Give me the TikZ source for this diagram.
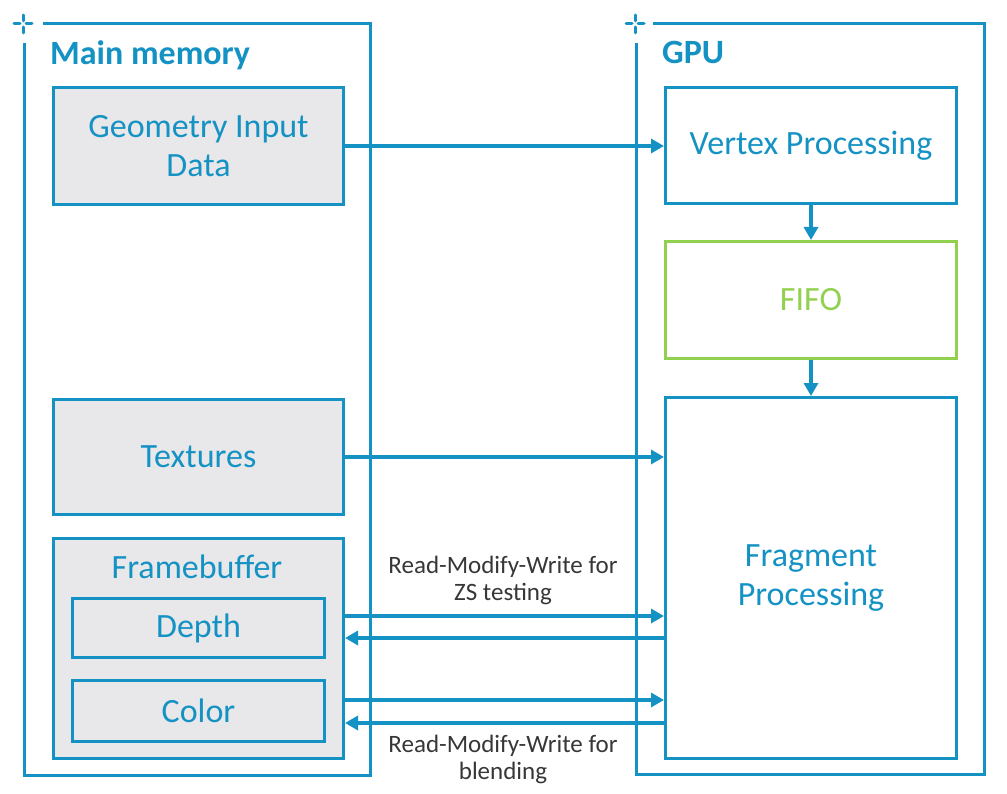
\documentclass[tikz,border=0pt]{standalone}
\usepackage{fontspec}
\setmainfont{Carlito}
\usetikzlibrary{arrows.meta}
\definecolor{memblue}{RGB}{20,146,196}
\definecolor{fifogreen}{RGB}{146,208,80}
\definecolor{boxgray}{RGB}{232,232,234}
\definecolor{notegray}{RGB}{55,55,55}
\begin{document}
\begin{tikzpicture}[x=1pt, y=-1pt,
  box/.style={draw=memblue, line width=3pt, text=memblue, font=\fontsize{34}{39}\selectfont,
    align=center, inner sep=0pt, anchor=north west},
  membox/.style={box, fill=boxgray},
  frame/.style={draw=memblue, line width=3pt},
  title/.style={text=memblue, font=\fontsize{34}{40}\selectfont\bfseries, anchor=west, inner sep=0pt},
  note/.style={text=notegray, font=\fontsize{25}{27}\selectfont, align=center},
  arr/.style={draw=memblue, line width=3.5pt, -{Triangle[length=13pt, width=14pt]}},
]
\useasboundingbox (0,0) rectangle (1007,794);

% move handles and the two containers
\foreach \cx/\cy in {23/24, 635/24}
  \draw[memblue, line width=3pt, line cap=round]
    (\cx-9,\cy) -- (\cx-3,\cy) (\cx+3,\cy) -- (\cx+9,\cy)
    (\cx,\cy-9) -- (\cx,\cy-3) (\cx,\cy+3) -- (\cx,\cy+9);
\draw[frame] (43,24) -- (370,24) -- (370,775) -- (24,775) -- (24,43);
\draw[frame] (653,24) -- (984,24) -- (984,774) -- (636,774) -- (636,43);
\node[title] (memtitle) at (50,55) {Main memory};
\node[title] (gputitle) at (662,52) {GPU};

% main memory
\node[membox, minimum width=290pt, minimum height=117pt] (geo) at (52,86) {Geometry Input\\Data};
\node[membox, minimum width=290pt, minimum height=115pt] (tex) at (52,398) {Textures};
\node[membox, minimum width=290pt, minimum height=220pt] (fb) at (52,537) {};
\node[text=memblue, font=\fontsize{34}{40}\selectfont] (fbtitle) at (197,567) {Framebuffer};
\node[box, minimum width=252pt, minimum height=59pt] (depth) at (71,597) {Depth};
\node[box, minimum width=252pt, minimum height=61pt] (color) at (71,679) {Color};

% gpu
\node[box, minimum width=291pt, minimum height=116pt] (vtx) at (664,86) {Vertex Processing};
\node[box, draw=fifogreen, text=fifogreen, minimum width=291pt, minimum height=117pt] (fifo) at (664,240) {FIFO};
\node[box, minimum width=291pt, minimum height=361pt] (frag) at (664,396) {Fragment\\Processing};

% connections
\draw[arr] (geo.east) -- (geo.east -| vtx.west);
\draw[arr] (vtx.south) -- (fifo.north);
\draw[arr] (fifo.south) -- (frag.north);
\draw[arr] (tex.east) -- (tex.east -| frag.west);
\draw[arr] ([yshift=12pt]depth.east -| fb.east) -- ([yshift=12pt]depth.east -| frag.west);
\draw[arr] ([yshift=-10pt]depth.east -| frag.west) -- ([yshift=-10pt]depth.east -| fb.east);
\draw[arr] ([yshift=11pt]color.east -| fb.east) -- ([yshift=11pt]color.east -| frag.west);
\draw[arr] ([yshift=-12pt]color.east -| frag.west) -- ([yshift=-12pt]color.east -| fb.east);

\node[note] (zsnote) at (503,580) {Read-Modify-Write for\\ZS testing};
\node[note] (blendnote) at (503,759) {Read-Modify-Write for\\blending};
\end{tikzpicture}
\end{document}
